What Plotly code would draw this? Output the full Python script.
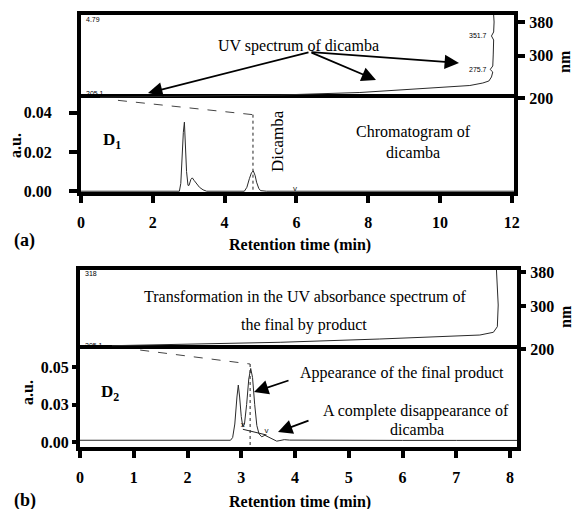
import plotly.graph_objects as go

W, H = 573, 509
SERIF = "Liberation Serif"

# ---------------- data: panel (a) ----------------
chrom_a_t = [0.0, 2.74, 2.78, 2.81, 2.85, 2.88, 2.905, 2.94, 2.98, 3.01, 3.06, 3.10, 3.15,
             3.22, 3.30, 3.40, 3.50, 4.55, 4.62, 4.69, 4.75, 4.80, 4.85, 4.89, 4.95, 5.00,
             5.17, 12.06]
chrom_a_au = [0.0, 0.0, 0.004, 0.016, 0.030, 0.0352, 0.025, 0.010, 0.003, 0.003, 0.006, 0.0068,
              0.0055, 0.0037, 0.002, 0.0007, 0.0, 0.0, 0.002, 0.0064, 0.0095, 0.0103, 0.008,
              0.0046, 0.0015, 0.0003, 0.0, 0.0]
link_a_t = [1.03, 4.79]
link_a_au = [0.0463, 0.039]
drop_a_t = [4.79, 4.79]
drop_a_au = [0.039, -0.0004]
mark_a_t = [5.96]
mark_a_au = [0.0012]

spec_a_abs = [0.044, 0.275, 0.460, 0.644, 0.829, 0.898, 0.928, 0.942, 0.948, 0.951, 0.945,
              0.951, 0.952, 0.953, 0.948, 0.953, 0.954, 0.953]
spec_a_nm = [201.7, 204.0, 207.1, 213.0, 224.9, 229.6, 235.5, 240.3, 249.8, 261.6, 267.5,
             275.8, 301.9, 337.4, 346.9, 356.4, 380.0, 396.6]

# ---------------- data: panel (b) ----------------
chrom_b_t = [0.0, 0.5, 1.0, 1.5, 2.0, 2.5, 2.80, 2.84, 2.88, 2.92, 2.945, 2.97, 3.00, 3.03,
             3.06, 3.10, 3.14, 3.176, 3.21, 3.25, 3.29, 3.33, 3.38, 3.44, 3.50, 3.58, 3.66,
             3.72, 3.80, 3.90, 4.2, 5.0, 6.0, 7.0, 8.13]
chrom_b_au = [0.0012, 0.0012, 0.0011, 0.0011, 0.0010, 0.0010, 0.0012, 0.003, 0.012, 0.030,
              0.038, 0.030, 0.017, 0.010, 0.012, 0.025, 0.042, 0.049, 0.043, 0.025, 0.011,
              0.0055, 0.0035, 0.0045, 0.0035, 0.0018, 0.0006, 0.0010, 0.0016, 0.0013, 0.0012,
              0.0011, 0.0011, 0.0011, 0.0011]
link_b_t = [1.12, 3.165]
link_b_au = [0.0613, 0.052]
drop_b_t = [3.165, 3.165]
drop_b_au = [0.052, -0.0033]
base_b_t = [3.03, 3.47]
base_b_au = [0.0085, 0.0047]
mark_b_t = [3.03, 3.47]
mark_b_au = [0.0085, 0.0047]
mark_b_txt = ["x", "v"]

spec_b_abs = [0.073, 0.176, 0.320, 0.458, 0.686, 0.915, 0.946, 0.955, 0.957, 0.955, 0.953]
spec_b_nm = [207.7, 210.3, 213.3, 215.7, 223.4, 232.7, 239.1, 252.2, 302.9, 357.4, 384.8]

# tick labels
ticks_a_x = [0, 2, 4, 6, 8, 10, 12]
ticks_a_y = [0.00, 0.02, 0.04]
ticks_b_x = [0, 1, 2, 3, 4, 5, 6, 7, 8]
ticks_b_y = [0.0, 0.025, 0.05]
ticks_b_y_txt = ["0.00", "0.03", "0.05"]
ticks_nm = [200, 300, 380]

# ---------------- layout helpers ----------------
def px(x):
    return x / W

def py(y):
    return 1 - y / H

TRACE = "#2a2a2a"
fig = go.Figure()

# panel (a)
fig.add_trace(go.Scatter(x=chrom_a_t, y=chrom_a_au, mode="lines", xaxis="x", yaxis="y",
                         line=dict(color=TRACE, width=1)))
fig.add_trace(go.Scatter(x=link_a_t, y=link_a_au, mode="lines", xaxis="x", yaxis="y",
                         line=dict(color="#444", width=1, dash="dash")))
fig.add_trace(go.Scatter(x=drop_a_t, y=drop_a_au, mode="lines", xaxis="x", yaxis="y",
                         line=dict(color="#222", width=1, dash="dot")))
fig.add_trace(go.Scatter(x=mark_a_t, y=mark_a_au, mode="text", text=["v"], xaxis="x", yaxis="y",
                         textfont=dict(family="Liberation Sans", size=8, color="#222")))
fig.add_trace(go.Scatter(x=spec_a_abs, y=spec_a_nm, mode="lines", xaxis="x2", yaxis="y2",
                         line=dict(color=TRACE, width=1)))

# panel (b)
fig.add_trace(go.Scatter(x=chrom_b_t, y=chrom_b_au, mode="lines", xaxis="x3", yaxis="y3",
                         line=dict(color=TRACE, width=1)))
fig.add_trace(go.Scatter(x=link_b_t, y=link_b_au, mode="lines", xaxis="x3", yaxis="y3",
                         line=dict(color="#444", width=1, dash="dash")))
fig.add_trace(go.Scatter(x=drop_b_t, y=drop_b_au, mode="lines", xaxis="x3", yaxis="y3",
                         line=dict(color="#222", width=1, dash="dot")))
fig.add_trace(go.Scatter(x=base_b_t, y=base_b_au, mode="lines", xaxis="x3", yaxis="y3",
                         line=dict(color="#222", width=1)))
fig.add_trace(go.Scatter(x=mark_b_t, y=mark_b_au, mode="text", text=mark_b_txt,
                         xaxis="x3", yaxis="y3", textposition="top center",
                         textfont=dict(family="Liberation Sans", size=8, color="#222")))
fig.add_trace(go.Scatter(x=spec_b_abs, y=spec_b_nm, mode="lines", xaxis="x4", yaxis="y4",
                         line=dict(color=TRACE, width=1)))

TF = dict(family=SERIF, size=16, color="black", weight="bold")
LW = 4
common = dict(showgrid=False, zeroline=False, linecolor="black", linewidth=LW,
              tickcolor="black", tickwidth=LW, tickfont=TF)

xa_dom = [px(81), px(514)]
xb_dom = [px(80), px(517)]

fig.update_layout(
    width=W, height=H, margin=dict(l=0, r=0, t=0, b=0),
    paper_bgcolor="white", plot_bgcolor="white", showlegend=False,
    template="none",
    xaxis=dict(domain=xa_dom, anchor="y", range=[0, 12.06], tickvals=ticks_a_x,
               ticks="outside", ticklen=7, showline=True, mirror=True,
               ticklabelstandoff=6, **common),
    yaxis=dict(domain=[py(192), py(98)], anchor="x", range=[-0.0004, 0.0475],
               tickvals=ticks_a_y, tickformat=".2f", ticks="outside", ticklen=8,
               showline=True, mirror=True, ticklabelstandoff=14, **common),
    xaxis2=dict(domain=xa_dom, anchor="y2", range=[0, 1], side="top", showline=True,
                showticklabels=False, ticks="", **common),
    yaxis2=dict(domain=[py(98), py(15)], anchor="x2", range=[200, 396.6], side="right",
                tickvals=ticks_nm, ticks="outside", ticklen=7, showline=True, mirror=True,
                ticklabelstandoff=1, **common),
    xaxis3=dict(domain=xb_dom, anchor="y3", range=[0, 8.13], tickvals=ticks_b_x,
                ticks="outside", ticklen=7, showline=True, mirror=True,
                ticklabelstandoff=6, **common),
    yaxis3=dict(domain=[py(447), py(349)], anchor="x3", range=[-0.0033, 0.062],
                tickvals=ticks_b_y, ticktext=ticks_b_y_txt, ticks="outside", ticklen=4,
                showline=True, mirror=True, ticklabelstandoff=0, **common),
    xaxis4=dict(domain=xb_dom, anchor="y4", range=[0, 1], side="top", showline=True,
                showticklabels=False, ticks="", **common),
    yaxis4=dict(domain=[py(349), py(270)], anchor="x4", range=[200, 384.8], side="right",
                tickvals=ticks_nm, ticks="outside", ticklen=5, showline=True, mirror=True,
                ticklabelstandoff=1, **common),
)

ann = []

def text(x, y, s, size=16, bold=False, angle=0, xanchor="center", family=SERIF):
    ann.append(dict(x=px(x), y=py(y), xref="paper", yref="paper", text=s, showarrow=False,
                    textangle=angle, xanchor=xanchor, yanchor="middle",
                    font=dict(family=family, size=size, color="black",
                              weight="bold" if bold else "normal")))

def arrow(x0, y0, x1, y1):
    ann.append(dict(x=px(x1), y=py(y1), xref="paper", yref="paper", text="",
                    showarrow=True, ax=x0 - x1, ay=y0 - y1, axref="pixel", ayref="pixel",
                    arrowhead=2, arrowsize=1.6, arrowwidth=1.8, arrowcolor="black"))

# panel (a) text
text(298, 46, "UV spectrum of dicamba")
arrow(310, 52, 148, 93)
arrow(310, 52, 376, 80)
arrow(310, 52, 459, 63)
text(413, 142, "Chromatogram of<br>dicamba")
text(112, 141, "D<sub>1</sub>", size=17, bold=True)
text(278, 141, "Dicamba", size=17, angle=-90)
text(15, 146, "a.u.", bold=True, angle=-90)
text(565, 62, "nm", bold=True, angle=-90)
text(300, 245, "Retention time (min)", bold=True)
text(12, 240, "(a)", size=18, bold=True, xanchor="left")
text(84, 20, "4.79", size=7, xanchor="left", family="Liberation Sans")
text(84, 94, "205.1", size=7, xanchor="left", family="Liberation Sans")
text(478, 35, "351.7", size=7, family="Liberation Sans")
text(478, 69, "275.7", size=7, family="Liberation Sans")

# panel (b) text
text(305, 297, "Transformation in the UV absorbance spectrum of")
text(304, 325, "the final by product")
text(402, 373, "Appearance of the final product")
text(416, 411, "A complete disappearance of")
text(417, 429, "dicamba")
arrow(290, 380, 254, 392)
arrow(310, 420, 278, 432)
text(110, 393, "D<sub>2</sub>", size=17, bold=True)
text(27, 393, "a.u.", bold=True, angle=-90)
text(565, 317, "nm", bold=True, angle=-90)
text(300, 502, "Retention time (min)", bold=True)
text(12, 500, "(b)", size=18, bold=True, xanchor="left")
text(83, 273, "318", size=7, xanchor="left", family="Liberation Sans")
text(83, 345, "205.1", size=7, xanchor="left", family="Liberation Sans")

fig.update_layout(annotations=ann)
fig.write_html("out.html")
